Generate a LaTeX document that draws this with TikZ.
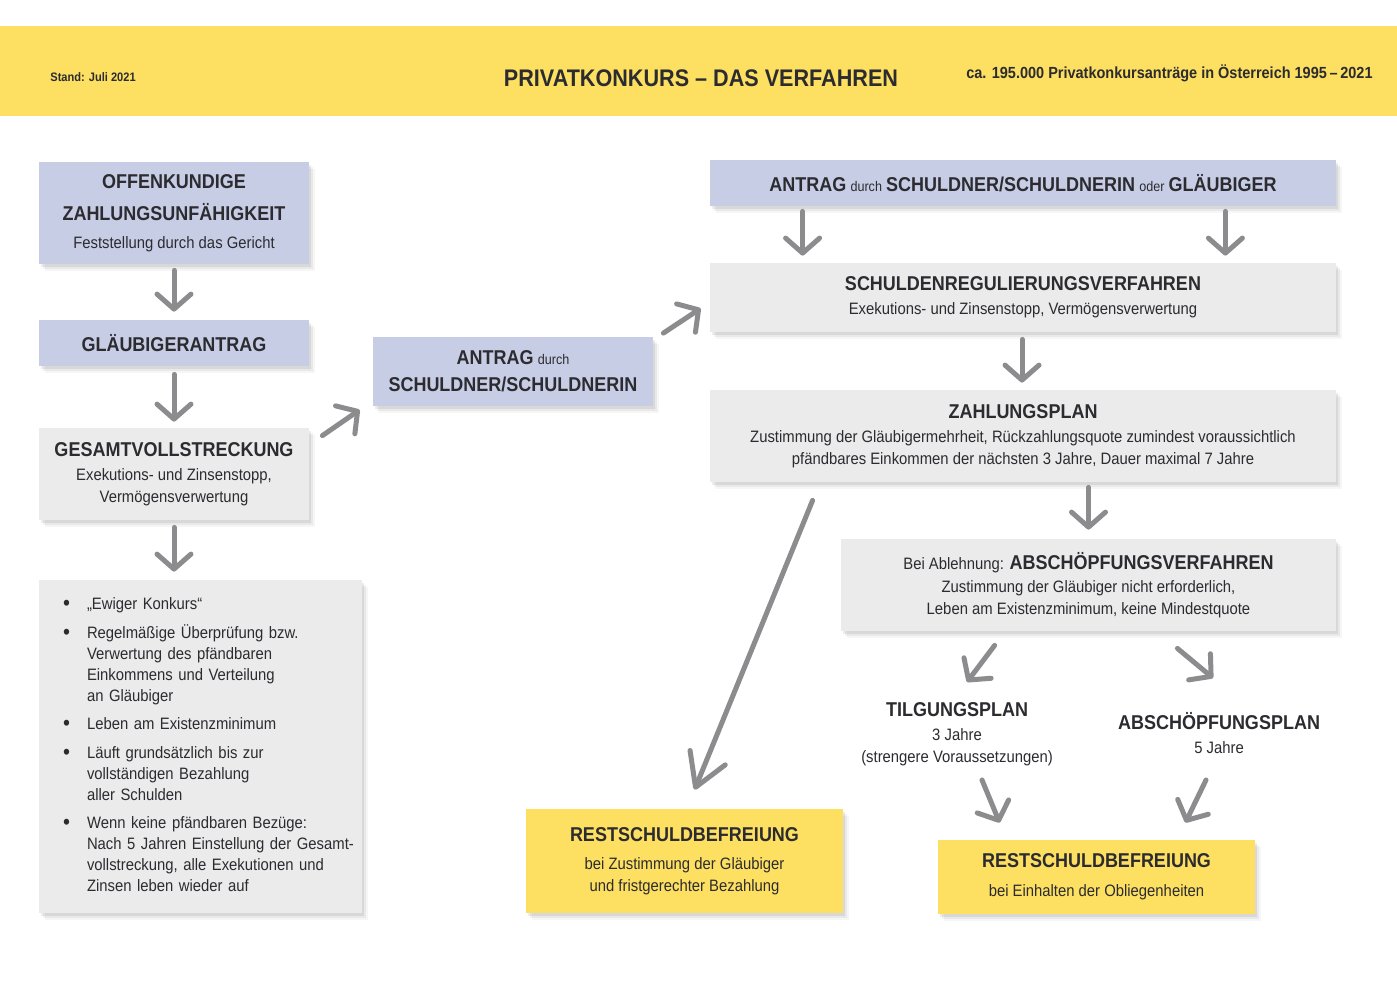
\documentclass[tikz,border=0pt]{standalone}
\usepackage{fontspec}
\setmainfont{Liberation Sans}[FakeStretch=0.9]
\usetikzlibrary{arrows.meta,calc,shadows}
\definecolor{ylw}{HTML}{FDE061}
\definecolor{lav}{HTML}{C8CDE6}
\definecolor{gbox}{HTML}{EBEBEB}
\definecolor{arrowc}{HTML}{8C8C8E}
\definecolor{ink}{HTML}{2B2B30}
\newcommand\boxtitle[1]{{\fontsize{10pt}{12pt}\selectfont\bfseries #1}}
\newcommand\lowword[1]{{\fontsize{7pt}{8pt}\selectfont #1}}
\newcommand\bigbullet{\makebox[12pt][l]{\fontsize{11pt}{10pt}\selectfont\raisebox{-0.4pt}{\textbullet}}}
\begin{document}
\begin{tikzpicture}[x=0.5pt,y=-0.5pt,
  box/.style={inner sep=0pt, align=center, text=ink,
    font=\fontsize{8.25pt}{11.25pt}\selectfont,
    drop shadow={shadow xshift=3pt, shadow yshift=-3.5pt, opacity=.035, fill=black},
    drop shadow={shadow xshift=2pt, shadow yshift=-2.5pt, opacity=.05, fill=black},
    drop shadow={shadow xshift=1pt, shadow yshift=-1.5pt, opacity=.07, fill=black}},
  lavbox/.style={box, fill=lav},
  graybox/.style={box, fill=gbox},
  yelbox/.style={box, fill=ylw},
  plainlabel/.style={inner sep=0pt, align=center, text=ink, font=\fontsize{8.25pt}{11.25pt}\selectfont},
  arr/.style={draw=arrowc, line width=2.5pt, line cap=round, line join=round,
    -{Straight Barb[length=7.5pt,width=17pt,round]}},
  bigarr/.style={arr, -{Straight Barb[length=16pt,width=19pt,round]}}
]
\useasboundingbox (0,0) rectangle (1397,984);
\fill[white] (0,0) rectangle (1397,984);
% header
\fill[ylw] (0,26) rectangle (1397,116);
\node[anchor=west, inner sep=0pt, text=ink, font=\fontsize{6.15pt}{7pt}\selectfont\bfseries] (stand) at (50,77) {Stand: Juli 2021};
\node[inner sep=0pt, text=ink, font=\fontsize{12pt}{14pt}\selectfont\bfseries] (title) at (701,78) {PRIVATKONKURS – DAS VERFAHREN};
\node[anchor=east, inner sep=0pt, text=ink, font=\fontsize{8.05pt}{10pt}\selectfont\bfseries] (stat) at (1373,73) {ca. 195.000 Privatkonkursanträge in Österreich 1995\,–\,2021};

% left column
\node[lavbox, minimum width=135pt, minimum height=51pt] (b1) at (174,213)
  {\boxtitle{OFFENKUNDIGE}\\[4.75pt]\boxtitle{ZAHLUNGSUNFÄHIGKEIT}\\[2.75pt]Feststellung durch das Gericht};
\node[lavbox, minimum width=135pt, minimum height=23pt] (b2) at (174,343)
  {\boxtitle{GLÄUBIGERANTRAG}};
\node[graybox, minimum width=135pt, minimum height=46pt] (b3) at (174,474)
  {\boxtitle{GESAMTVOLLSTRECKUNG}\\[0.75pt]Exekutions- und Zinsenstopp,\\Vermögensverwertung};
\node[graybox, minimum width=161.5pt, minimum height=166.5pt, inner xsep=12pt, text width=137.5pt, align=left,
  font=\fontsize{8.25pt}{10.5pt}\selectfont] (b4) at (200.5,746.5)
  {\begin{tabular}{@{}l@{}l@{}}
   \bigbullet & „Ewiger Konkurs“\\[3.75pt]
   \bigbullet & Regelmäßige Überprüfung bzw.\\
    & Verwertung des pfändbaren\\
    & Einkommens und Verteilung\\
    & an Gläubiger\\[3.75pt]
   \bigbullet & Leben am Existenzminimum\\[3.75pt]
   \bigbullet & Läuft grundsätzlich bis zur\\
    & vollständigen Bezahlung\\
    & aller Schulden\\[3.75pt]
   \bigbullet & Wenn keine pfändbaren Bezüge:\\
    & Nach 5 Jahren Einstellung der Gesamt-\\
    & vollstreckung, alle Exekutionen und\\
    & Zinsen leben wieder auf
  \end{tabular}};

% middle
\node[lavbox, minimum width=140pt, minimum height=34.5pt] (b5) at (513,371)
  {\boxtitle{ANTRAG} \lowword{durch}\\[2.25pt]\boxtitle{SCHULDNER/SCHULDNERIN}};

% right column
\node[lavbox, minimum width=313pt, minimum height=23pt] (b6) at (1023,183)
  {\boxtitle{ANTRAG} \lowword{durch} \boxtitle{SCHULDNER/SCHULDNERIN} \lowword{oder} \boxtitle{GLÄUBIGER}};
\node[graybox, minimum width=313pt, minimum height=34.5pt] (b7) at (1023,297.5)
  {\boxtitle{SCHULDENREGULIERUNGSVERFAHREN}\\[0.75pt]Exekutions- und Zinsenstopp, Vermögensverwertung};
\node[graybox, minimum width=313pt, minimum height=46pt] (b8) at (1023,436)
  {\boxtitle{ZAHLUNGSPLAN}\\[0.75pt]Zustimmung der Gläubigermehrheit, Rückzahlungsquote zumindest voraussichtlich\\pfändbares Einkommen der nächsten 3 Jahre, Dauer maximal 7 Jahre};
\node[graybox, minimum width=247.5pt, minimum height=46pt] (b9) at (1088.5,585)
  {Bei Ablehnung: \boxtitle{ABSCHÖPFUNGSVERFAHREN}\\[0.25pt]Zustimmung der Gläubiger nicht erforderlich,\\Leben am Existenzminimum, keine Mindestquote};
\node[plainlabel] (tilg) at (957,734)
  {\boxtitle{TILGUNGSPLAN}\\[0.75pt]3 Jahre\\(strengere Voraussetzungen)};
\node[plainlabel] (absp) at (1219,733)
  {\boxtitle{ABSCHÖPFUNGSPLAN}\\[0.75pt]5 Jahre};
\node[yelbox, minimum width=158.5pt, minimum height=52pt] (b10) at (684.5,861)
  {\boxtitle{RESTSCHULDBEFREIUNG}\\[2.75pt]bei Zustimmung der Gläubiger\\und fristgerechter Bezahlung};
\node[yelbox, minimum width=158.5pt, minimum height=37pt] (b11) at (1096.5,877)
  {\boxtitle{RESTSCHULDBEFREIUNG}\\[3.25pt]bei Einhalten der Obliegenheiten};

% connectors
\draw[arr] ($(b1.south)+(0,6)$) -- ($(b2.north)+(0,-8)$);
\draw[arr] ($(b2.south)+(0,8)$) -- ($(b3.north)+(0,-6)$);
\draw[arr] ($(b3.south)+(0,7)$) -- ($(b3.south |- b4.north)+(0,-8)$);
\draw[arr] ($(b3.north east)+(13,8)$) -- ($(b5.south west)+(-13,4)$);
\draw[arr] ($(b5.north east)+(10,-3)$) -- ($(b7.south west)+(-9,-24)$);
\draw[arr] ($(b6.south west)+(93,5)$) -- ($(b7.north west)+(93,-7)$);
\draw[arr] ($(b6.south east)+(-111,5)$) -- ($(b7.north east)+(-111,-7)$);
\draw[arr] ($(b7.south)+(-1,7)$) -- ($(b8.north)+(-1,-7)$);
\draw[arr] ($(b8.south -| b9.north)+(0,5)$) -- ($(b9.north)+(0,-9)$);
\draw[bigarr] ($(b8.south west)+(103,18)$) -- ($(b10.north west)+(169,-19)$);
\draw[arr] ($(b9.south west)+(154,14)$) -- ($(tilg.center)+(10,-52)$);
\draw[arr] ($(b9.south east)+(-159,17)$) -- ($(absp.center)+(-6,-55)$);
\draw[arr] ($(tilg.center)+(25,46)$) -- ($(b11.north west)+(62,-17)$);
\draw[arr] ($(absp.center)+(-13,47)$) -- ($(b11.north east)+(-70,-17)$);
\end{tikzpicture}
\end{document}
